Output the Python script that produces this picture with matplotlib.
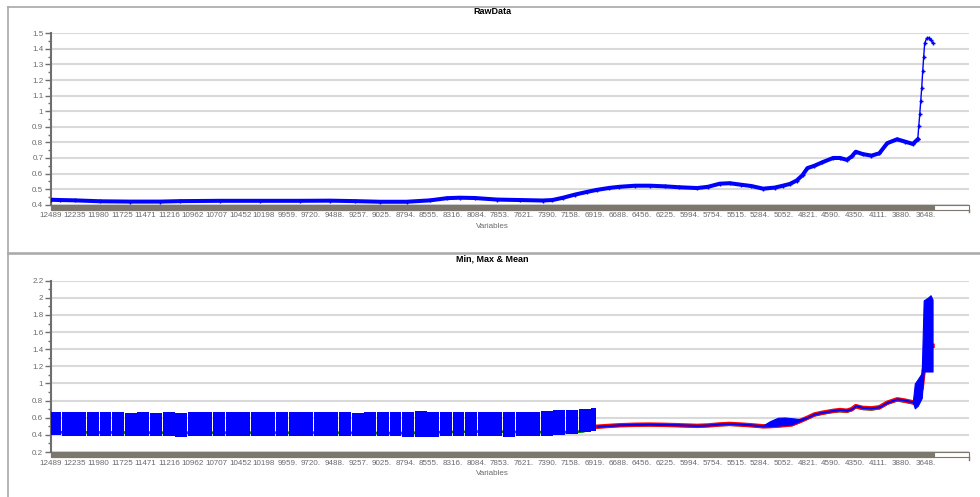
import numpy as np
import matplotlib
matplotlib.use("Agg")
import matplotlib.pyplot as plt
from matplotlib.patches import Rectangle
from matplotlib.lines import Line2D
from matplotlib.ticker import MultipleLocator, FuncFormatter
import matplotlib.transforms as mtransforms

plt.rcParams['font.family'] = ['Liberation Sans', 'DejaVu Sans']

# variable names shown on the x axis (one label every 24 variables)
var_labels = ['12489', '12235', '11980', '11725', '11471', '11216', '10962', '10707',
              '10452', '10198', '9959.', '9720.', '9488.', '9257.', '9025.', '8794.',
              '8555.', '8316.', '8084.', '7853.', '7621.', '7390.', '7158.', '6919.',
              '6688.', '6456.', '6225.', '5994.', '5754.', '5515.', '5284.', '5052.',
              '4821.', '4590.', '4350.', '4111.', '3880.', '3648.']
label_step = 24
n_vars = 896

# raw spectrum (variable index, value)
raw_var = [0, 9, 24, 50, 80, 111, 131, 172, 212, 253, 283, 309, 334, 361, 385,
           402, 415, 430, 453, 476, 499, 509, 520, 532, 544, 554, 567, 577, 593, 608,
           623, 638, 656, 667, 679, 689, 701, 711, 723, 735, 743, 750, 757, 763, 768,
           775, 783, 794, 801, 808, 813, 817, 824, 833, 841, 849, 859, 867, 875, 880,
           881, 882, 883, 884, 885, 886, 887, 889, 891, 893, 895]
raw_val = [0.432, 0.43, 0.428, 0.422, 0.42, 0.42, 0.423, 0.425, 0.425, 0.425,
           0.426, 0.423, 0.419, 0.419, 0.428, 0.442, 0.445, 0.443, 0.433, 0.43,
           0.427, 0.43, 0.445, 0.465, 0.482, 0.495, 0.508, 0.515, 0.522, 0.522,
           0.518, 0.512, 0.507, 0.515, 0.535, 0.538, 0.528, 0.52, 0.503, 0.51,
           0.522, 0.533, 0.555, 0.59, 0.635, 0.65, 0.672, 0.70, 0.70, 0.688,
           0.71, 0.74, 0.725, 0.715, 0.73, 0.795, 0.82, 0.805, 0.79, 0.82,
           0.905, 0.98, 1.065, 1.15, 1.255, 1.35, 1.436, 1.468, 1.47, 1.46, 1.44]

# binned min/max range for the first part of the spectrum
bin_hi = [0.665, 0.665, 0.668, 0.665, 0.662, 0.665, 0.66, 0.662, 0.66, 0.665, 0.66,
          0.665, 0.665, 0.662, 0.665, 0.665, 0.665, 0.665, 0.665, 0.665, 0.665, 0.665,
          0.665, 0.665, 0.66, 0.662, 0.662, 0.665, 0.672, 0.675, 0.672, 0.665, 0.665,
          0.665, 0.665, 0.667, 0.667, 0.667, 0.67, 0.675, 0.685, 0.695, 0.705, 0.715]
bin_lo = [0.395, 0.39, 0.39, 0.39, 0.39, 0.388, 0.39, 0.385, 0.385, 0.385, 0.38,
          0.385, 0.385, 0.385, 0.385, 0.385, 0.385, 0.385, 0.385, 0.385, 0.385, 0.385,
          0.385, 0.385, 0.385, 0.385, 0.385, 0.385, 0.38, 0.38, 0.38, 0.385, 0.385,
          0.385, 0.385, 0.385, 0.38, 0.385, 0.385, 0.39, 0.40, 0.415, 0.43, 0.44]

# min / max / mean for the rest of the spectrum
mm_var = [554, 567, 577, 593, 608, 623, 638, 656, 667, 679, 689, 701, 711, 723, 730,
          738, 745, 752, 760, 768, 775, 783, 794, 801, 808, 813, 817, 824, 833, 841,
          849, 859, 867, 875, 877, 880, 884, 886, 890, 893, 895]
mean_val = [0.495, 0.505, 0.512, 0.518, 0.52, 0.517, 0.512, 0.505, 0.51, 0.522,
            0.528, 0.52, 0.512, 0.50, 0.502, 0.508, 0.515, 0.522, 0.56, 0.60,
            0.638, 0.658, 0.68, 0.69, 0.682, 0.70, 0.735, 0.715, 0.71, 0.722,
            0.775, 0.815, 0.80, 0.78, 0.775, 0.80, 0.95, 1.15, 1.40, 1.44, 1.44]
max_lo = [0.495, 0.505, 0.512, 0.518, 0.52, 0.517, 0.512, 0.505, 0.51, 0.522,
          0.528, 0.52, 0.512, 0.50, 0.502, 0.508, 0.515, 0.522, 0.56, 0.60,
          0.638, 0.658, 0.68, 0.69, 0.682, 0.70, 0.735, 0.715, 0.71, 0.722,
          0.775, 0.815, 0.80, 0.78, 0.71, 0.74, 0.83, 1.14, 1.14, 1.14, 1.14]
max_hi = [0.506, 0.516, 0.523, 0.529, 0.531, 0.528, 0.523, 0.516, 0.521, 0.533,
          0.539, 0.531, 0.523, 0.511, 0.56, 0.60, 0.603, 0.595, 0.585, 0.611,
          0.649, 0.669, 0.691, 0.701, 0.693, 0.711, 0.746, 0.726, 0.721, 0.733,
          0.786, 0.826, 0.811, 0.791, 1.0, 1.05, 1.12, 1.97, 2.0, 2.03, 1.98]
min_var = [0, 60, 130, 210, 290, 350, 400, 440, 480, 520, 540] + mm_var
min_val = [0.43, 0.428, 0.425, 0.425, 0.425, 0.42, 0.432, 0.44, 0.432, 0.43, 0.44,
           0.49, 0.50, 0.508, 0.514, 0.515, 0.513, 0.506, 0.498, 0.506, 0.515,
           0.52, 0.514, 0.506, 0.494, 0.496, 0.502, 0.51, 0.516, 0.55, 0.592,
           0.63, 0.65, 0.672, 0.678, 0.672, 0.692, 0.725, 0.705, 0.698, 0.712,
           0.765, 0.805, 0.79, 0.772, 0.77, 0.79, 0.94, 1.14, 1.39, 1.43, 1.44]

GRID = '#d9d9d9'
AXC = '#6e6e6e'
TXT = '#6a6a6a'
BAR = '#7b776d'

fig = plt.figure(figsize=(9.8, 4.97), dpi=100)
ax1 = fig.add_axes([0.05204, 0.5881, 0.93673, 0.34487])
ax2 = fig.add_axes([0.05204, 0.09054, 0.93673, 0.34467])


def style_axis(ax, title, ymin, ymax, major, minor):
    ax.set_xlim(0, 932)
    ax.set_ylim(ymin, ymax)
    ax.yaxis.set_major_locator(MultipleLocator(major))
    ax.yaxis.set_minor_locator(MultipleLocator(minor))
    ax.yaxis.set_major_formatter(FuncFormatter(lambda v, _: f'{round(v, 2):g}'))
    ax.set_xticks(np.arange(len(var_labels)) * label_step)
    ax.set_xticklabels(var_labels)
    ax.tick_params(axis='x', length=0, pad=5.5, labelsize=5.8, labelcolor=TXT)
    ax.tick_params(axis='y', which='major', length=4.5, width=1, color=AXC,
                   labelsize=5.8, labelcolor=TXT, pad=1)
    ax.tick_params(axis='y', which='minor', length=2.5, width=1, color=AXC)
    for s in ['top', 'right', 'bottom']:
        ax.spines[s].set_visible(False)
    ax.spines['left'].set_color(AXC)
    ax.spines['left'].set_linewidth(1.5)
    ax.grid(axis='y', color=GRID, lw=1.5, zorder=0)
    ax.set_axisbelow(True)
    ax.set_title(title, fontsize=6.5, fontweight='bold', x=0.481, pad=14)
    ax.set_xlabel('Variables', fontsize=5.8, color=TXT, labelpad=0)
    ax.xaxis.set_label_coords(0.481, -0.105)
    # scroll band under the plot area
    ax.add_patch(Rectangle((0, -0.03), 1, 0.03, transform=ax.transAxes,
                           facecolor='white', edgecolor=BAR, lw=0.8, clip_on=False))
    tr = mtransforms.blended_transform_factory(ax.transData, ax.transAxes)
    ax.add_patch(Rectangle((0, -0.03), n_vars, 0.03, transform=tr,
                           facecolor=BAR, edgecolor=BAR, lw=0.8, clip_on=False))
    ax.add_line(Line2D([1, 1], [-0.03, -0.045], transform=ax.transAxes,
                       color=BAR, lw=1, clip_on=False))


style_axis(ax1, 'RawData', 0.4, 1.5, 0.1, 0.05)
style_axis(ax2, 'Min, Max & Mean', 0.2, 2.2, 0.2, 0.1)

# top: raw data, thick through the dense part and thin on the final peak
raw_var_a = np.array(raw_var)
raw_val_a = np.array(raw_val)
dense = raw_var_a <= 880
peak = raw_var_a >= 880
ax1.plot(raw_var_a[dense], raw_val_a[dense], color='blue', lw=2.9,
         marker='+', ms=3.5, mew=1, zorder=3)
ax1.plot(raw_var_a[peak], raw_val_a[peak],
         color='blue', lw=1, marker='+', ms=3.5, mew=1, zorder=3)

# bottom: min (green), mean (red), max range (blue)
ax2.plot(min_var, min_val, color='#008000', lw=2, zorder=2)
ax2.plot(mm_var, mean_val, color='red', lw=3.2, zorder=3)
edges = np.r_[0, 10.9 + 12.8 * np.arange(43), 554]
lo = np.array(bin_lo)
hi = np.array(bin_hi)
ax2.bar(edges[:-1], hi - lo, bottom=lo, width=np.diff(edges) - 0.7, align='edge',
        color='blue', edgecolor='none', zorder=4)
ax2.fill_between(mm_var, max_lo, max_hi, color='blue', edgecolor='blue', lw=0.8,
                 zorder=4)

# panel frames
fig.add_artist(Line2D([8 / 980, 1], [1 - 6.5 / 497] * 2, color='#a8a8a8', lw=1.2))
fig.add_artist(Line2D([8 / 980, 8 / 980], [0, 1 - 6.5 / 497], color='#a8a8a8', lw=1.2))
fig.add_artist(Line2D([8 / 980, 1], [1 - 253 / 497] * 2, color='#a8a8a8', lw=1.8))

fig.savefig('out.png', dpi=100)
